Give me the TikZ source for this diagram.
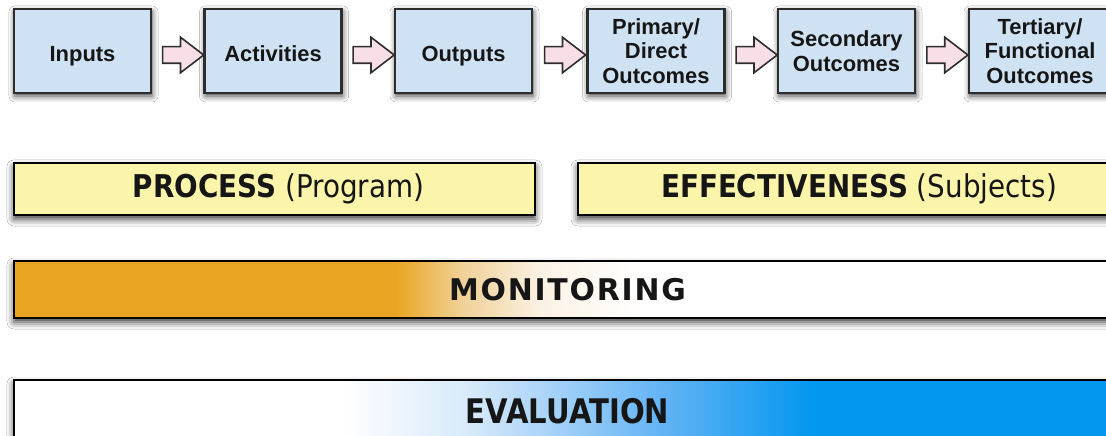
\documentclass[tikz,border=0pt]{standalone}
\usepackage{fontspec}
\usetikzlibrary{shapes.arrows,shadows.blur,calc}
\newfontfamily\boxfont{Liberation Sans}
\newfontfamily\barfont{DejaVu Sans}
\newfontfamily\monfont{DejaVu Sans}[LetterSpace=6]
\definecolor{boxblue}{RGB}{207,226,243}
\definecolor{boxline}{RGB}{45,45,45}
\definecolor{arrowpink}{RGB}{248,222,230}
\definecolor{baryellow}{RGB}{250,245,170}
\definecolor{monorange}{RGB}{233,165,33}
\definecolor{monmid}{RGB}{240,208,150}
\definecolor{monlight}{RGB}{250,242,228}
\definecolor{evalblue}{RGB}{4,151,239}
\definecolor{evalmid}{RGB}{100,180,245}
\definecolor{evallight}{RGB}{215,233,250}
\definecolor{textdark}{RGB}{22,22,22}
% bounding box of the filled path maps onto 25bp..75bp
\pgfdeclarehorizontalshading{monshade}{100bp}{color(0bp)=(monorange); color(42.2bp)=(monorange); color(45.2bp)=(monmid); color(48.8bp)=(monlight); color(53.3bp)=(white); color(100bp)=(white)}
\pgfdeclarehorizontalshading{evalshade}{100bp}{color(0bp)=(white); color(39.7bp)=(white); color(45.6bp)=(evallight); color(54.2bp)=(evalmid); color(61bp)=(evalblue); color(100bp)=(evalblue)}
\begin{document}
\begin{tikzpicture}[x=1bp,y=-1bp,
  boxshadow/.style={blur shadow={shadow xshift=1bp, shadow yshift=-3bp, shadow blur radius=6bp, shadow opacity=75}},
  barshadow/.style={blur shadow={shadow xshift=0bp, shadow yshift=-4bp, shadow blur radius=7bp, shadow opacity=80}},
  stagebox/.style={draw=boxline, line width=2.2bp, fill=boxblue, minimum width=137bp, minimum height=84bp,
    inner sep=0, align=center, font=\boxfont\bfseries\fontsize{22}{24.5}\selectfont, text=textdark, boxshadow},
  oneline/.style={text height=21bp, text depth=0bp},
  flowarrow/.style={single arrow, draw=boxline, line width=1.6bp, fill=arrowpink, minimum height=41bp,
    inner xsep=0bp, inner ysep=7.5bp, single arrow head extend=9.5bp, single arrow tip angle=75},
  bar/.style={draw=black, line width=2.6bp, inner sep=0, text=textdark, barshadow},
]
\useasboundingbox (0,0) rectangle (1106,436);
\fill[white] (0,0) rectangle (1106,436);

% top row
\node[stagebox, oneline] (inputs) at (82.5,51) {Inputs};
\node[stagebox, oneline] (activities) at (273,51) {Activities};
\node[stagebox, oneline] (outputs) at (463.5,51) {Outputs};
\node[stagebox] (primary) at (656,51) {Primary/\\Direct\\Outcomes};
\node[stagebox] (secondary) at (846.5,51) {Secondary\\Outcomes};
\node[stagebox, minimum width=142bp] (tertiary) at (1040,51) {Tertiary/\\Functional\\Outcomes};

\node[flowarrow] (arr1) at ($(inputs.east)!0.5!(activities.west)+(0,4)$) {};
\node[flowarrow] (arr2) at ($(activities.east)!0.5!(outputs.west)+(0,4)$) {};
\node[flowarrow] (arr3) at ($(outputs.east)!0.5!(primary.west)+(0,4)$) {};
\node[flowarrow] (arr4) at ($(primary.east)!0.5!(secondary.west)+(0,4)$) {};
\node[flowarrow] (arr5) at ($(secondary.east)!0.5!(tertiary.west)+(0,4)$) {};

% process / effectiveness
\node[bar, fill=baryellow, minimum width=521bp, minimum height=52bp] (process) at (274.5,189)
  {\hspace{8bp}\raisebox{-2bp}{\barfont\fontsize{31.5}{36}\selectfont\scalebox{0.885}[1]{\textbf{PROCESS} (Program)}}};
\node[bar, fill=baryellow, minimum width=562bp, minimum height=52bp] (effect) at (859,189)
  {\raisebox{-2bp}{\barfont\fontsize{31.5}{36}\selectfont\scalebox{0.885}[1]{\textbf{EFFECTIVENESS} (Subjects)}}};

% monitoring
\node[bar, shade, shading=monshade, minimum width=1107bp, minimum height=57bp] (monitoring) at (567.5,289.5)
  {\monfont\bfseries\fontsize{30}{33}\selectfont MONITORING};

% evaluation
\node[bar, shade, shading=evalshade, minimum width=1107bp, minimum height=62bp] (evaluation) at (567.5,411)
  {\barfont\bfseries\fontsize{34}{38}\selectfont\scalebox{0.86}[1]{EVALUATION}};
\end{tikzpicture}
\end{document}
